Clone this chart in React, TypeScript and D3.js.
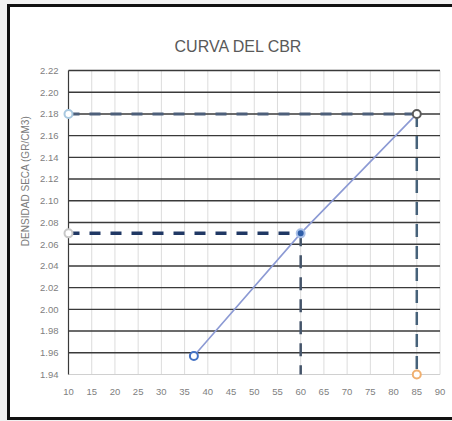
import React, { useEffect, useRef } from 'react';
import * as d3 from 'd3';

// CBR curve points
const cbrValues = [37, 60, 85];
const densityValues = [1.957, 2.07, 2.18];

// reference lines
const maxDensity = 2.18;
const designDensity = 2.07;
const designCbr = 60;
const maxCbr = 85;
const xMin = 10;
const yMin = 1.94;

const xTicks = [10, 15, 20, 25, 30, 35, 40, 45, 50, 55, 60, 65, 70, 75, 80, 85, 90];
const yTicks = [1.94, 1.96, 1.98, 2.0, 2.02, 2.04, 2.06, 2.08, 2.1, 2.12, 2.14, 2.16, 2.18, 2.2, 2.22];

const W = 452;
const H = 421;
const FONT = "'Liberation Sans', sans-serif";

const App: React.FC = () => {
    const svgRef = useRef<SVGSVGElement>(null);

    useEffect(() => {
        if (!svgRef.current) return;
        const svg = d3.select(svgRef.current);
        svg.selectAll('*').remove();

        const margin = { top: 70.5, right: 12, bottom: 46.5, left: 68.5 };

        const x = d3.scaleLinear().domain([10, 90]).range([margin.left, W - margin.right]);
        const y = d3.scaleLinear().domain([1.94, 2.22]).range([H - margin.bottom, margin.top]);

        // background + frame
        svg.append('rect').attr('width', W).attr('height', H).attr('fill', '#f2f2f2');
        svg.append('rect').attr('x', 8.5).attr('y', 5.5).attr('width', W + 10).attr('height', 413)
            .attr('fill', '#ffffff').attr('stroke', '#111').attr('stroke-width', 3);

        // vertical grid
        svg.append('g').selectAll('line').data(xTicks.slice(1)).join('line')
            .attr('x1', d => x(d)).attr('x2', d => x(d))
            .attr('y1', y(2.22)).attr('y2', y(1.94))
            .attr('stroke', '#dcdcdc').attr('stroke-width', 1);

        // horizontal grid
        svg.append('g').selectAll('line').data(yTicks).join('line')
            .attr('x1', x(10)).attr('x2', x(90))
            .attr('y1', d => y(d)).attr('y2', d => y(d))
            .attr('stroke', d => (d === 1.94 ? '#d0d0d0' : '#3a3a3a'))
            .attr('stroke-width', d => (d === 1.94 ? 1 : 1.4));

        // left axis line
        svg.append('line').attr('x1', x(10)).attr('x2', x(10))
            .attr('y1', y(2.22)).attr('y2', y(1.94))
            .attr('stroke', '#3a3a3a').attr('stroke-width', 1.2);

        // tick labels
        svg.append('g').selectAll('text').data(yTicks).join('text')
            .attr('x', x(10) - 10).attr('y', d => y(d)).attr('dy', '0.35em')
            .attr('text-anchor', 'end').attr('font-family', FONT).attr('font-size', 9.5)
            .attr('fill', '#808080').text(d => d3.format('.2f')(d));
        svg.append('g').selectAll('text').data(xTicks).join('text')
            .attr('x', d => x(d)).attr('y', y(1.94) + 17).attr('dy', '0.35em')
            .attr('text-anchor', 'middle').attr('font-family', FONT).attr('font-size', 9.5)
            .attr('fill', '#808080').text(d => d);

        // title
        svg.append('text').attr('x', 238).attr('y', 52).attr('text-anchor', 'middle')
            .attr('font-family', FONT).attr('font-size', 16).attr('fill', '#595959')
            .text('CURVA DEL CBR');

        // y label
        svg.append('text').attr('transform', `translate(25,${y(2.118)}) rotate(-90)`)
            .attr('text-anchor', 'middle').attr('dy', '0.35em')
            .attr('font-family', FONT).attr('font-size', 10).attr('fill', '#7a7a7a')
            .attr('textLength', 130).attr('lengthAdjust', 'spacingAndGlyphs')
            .text('DENSIDAD SECA  (GR/CM3)');

        const dash = '11 10';

        // max density horizontal
        svg.append('line').attr('x1', x(xMin)).attr('x2', x(maxCbr))
            .attr('y1', y(maxDensity)).attr('y2', y(maxDensity))
            .attr('stroke', '#4d5f7a').attr('stroke-width', 3).attr('stroke-dasharray', dash);
        // design density horizontal
        svg.append('line').attr('x1', x(xMin)).attr('x2', x(designCbr))
            .attr('y1', y(designDensity)).attr('y2', y(designDensity))
            .attr('stroke', '#203864').attr('stroke-width', 3.5).attr('stroke-dasharray', dash);
        // verticals
        svg.append('line').attr('x1', x(designCbr)).attr('x2', x(designCbr))
            .attr('y1', y(designDensity)).attr('y2', y(yMin))
            .attr('stroke', '#44546a').attr('stroke-width', 2.5).attr('stroke-dasharray', '13 9');
        svg.append('line').attr('x1', x(maxCbr)).attr('x2', x(maxCbr))
            .attr('y1', y(maxDensity)).attr('y2', y(yMin))
            .attr('stroke', '#46627a').attr('stroke-width', 2.5).attr('stroke-dasharray', '13 9');

        // curve
        const pts = cbrValues.map((c, i) => [c, densityValues[i]] as [number, number]);
        const line = d3.line<[number, number]>().x(d => x(d[0])).y(d => y(d[1]));
        svg.append('path').datum(pts).attr('d', line).attr('fill', 'none')
            .attr('stroke', '#8c9ad4').attr('stroke-width', 1.6);

        // markers
        const markers: { cx: number; cy: number; color: string; fill: string }[] = [
            { cx: cbrValues[0], cy: densityValues[0], color: '#4472c4', fill: '#ffffff' },
            { cx: cbrValues[1], cy: densityValues[1], color: '#a9c0e8', fill: '#2f5ea8' },
            { cx: cbrValues[2], cy: densityValues[2], color: '#5a5a5a', fill: '#ffffff' },
            { cx: xMin, cy: maxDensity, color: '#a8c8e0', fill: '#ffffff' },
            { cx: xMin, cy: designDensity, color: '#c8c8c8', fill: '#ffffff' },
            { cx: maxCbr, cy: yMin, color: '#f0b070', fill: '#ffffff' },
        ];
        svg.append('g').selectAll('circle').data(markers).join('circle')
            .attr('cx', d => x(d.cx)).attr('cy', d => y(d.cy)).attr('r', 4)
            .attr('fill', d => d.fill).attr('stroke', d => d.color).attr('stroke-width', 2);
    }, []);

    return (
        <div style={{ position: 'absolute', left: 0, top: 0 }}>
            <svg ref={svgRef} width={W} height={H}></svg>
        </div>
    );
};

export default App;
